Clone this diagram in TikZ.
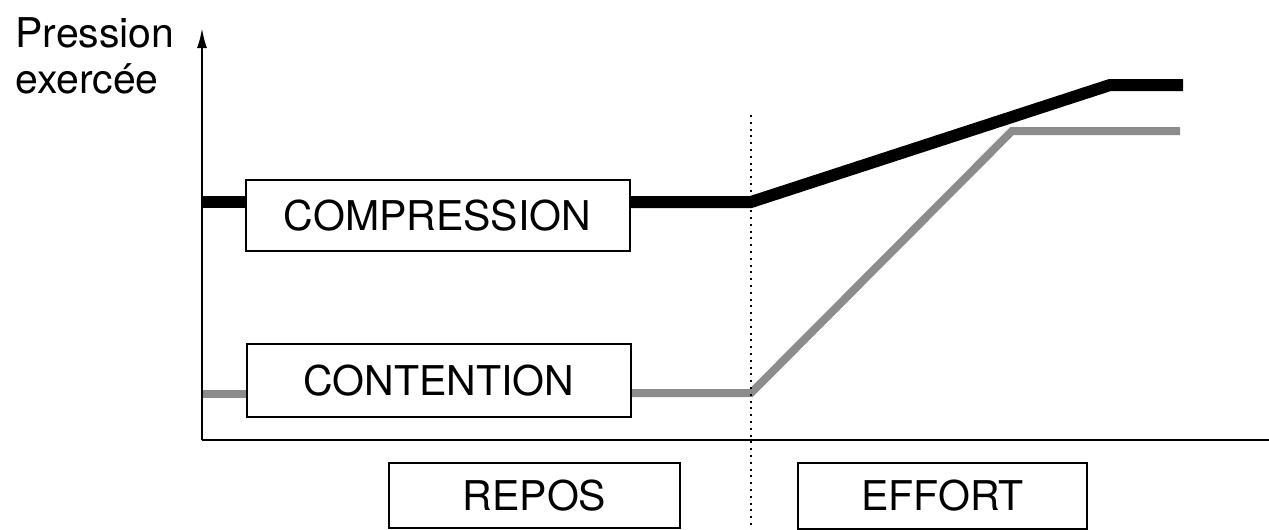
\documentclass[tikz,border=0pt]{standalone}
\usepackage{fontspec}
\setmainfont{TeX Gyre Heros}
\usetikzlibrary{arrows.meta}
\tikzset{
  boite/.style={draw, line width=1pt, fill=white, inner sep=0pt,
    font=\fontsize{20.5}{24}\selectfont},
  noir/.style={line width=6pt, black},
  gris/.style={line width=4pt, black!45},
}
\begin{document}
\begin{tikzpicture}[x=0.5pt,y=-0.5pt]
        \useasboundingbox (0,0) rectangle (1269,530);
        % points of the two curves
        \coordinate (n0) at (202,202);
        \coordinate (n1) at (751,202);
        \coordinate (n2) at (1110,85);
        \coordinate (n3) at (1183,85);
        \coordinate (g0) at (202,394);
        \coordinate (g1) at (751,393);
        \coordinate (g2) at (1012,131);
        \coordinate (g3) at (1180,131);
        \coordinate (O) at (202,440);
        \coordinate (ytop) at (202,28);
        \coordinate (xend) at (1269,440);
        \coordinate (d0) at (751,115);
        \coordinate (d1) at (751,530);
        \node[boite, minimum width=192pt, minimum height=35.5pt] (compression) at (437.5,215.5) {COMPRESSION};
        \node[boite, minimum width=192pt, minimum height=36.5pt] (contention) at (439,380.5) {CONTENTION};
        \node[boite, minimum width=145.5pt, minimum height=32.5pt] (repos) at (534.5,495.5) {REPOS};
        \node[boite, minimum width=144.5pt, minimum height=33pt] (effort) at (942.5,495.5) {EFFORT};
        \node[anchor=north west, align=left, inner sep=0pt,
          font=\fontsize{20.5}{23}\selectfont] (ylabel) at (15,17) {Pression\\exercée};
        \draw[gris] (g0) -- (g0 -| contention.west);
        \draw[gris] (g1 -| contention.east) -- (g1) -- (g2) -- (g3);
        \draw[noir] (n0) -- (n0 -| compression.west);
        \draw[noir] (n0 -| compression.east) -- (n1) -- (n2) -- (n3);
        \draw[line width=1.1pt, -{Latex[length=10pt,width=5pt]}] (O) -- (ytop);
        \draw[line width=1.1pt] (O) -- (xend);
        \draw[line width=1.1pt, dash pattern=on 1pt off 2.4pt] (d0) -- (d1);
      \end{tikzpicture}
\end{document}
